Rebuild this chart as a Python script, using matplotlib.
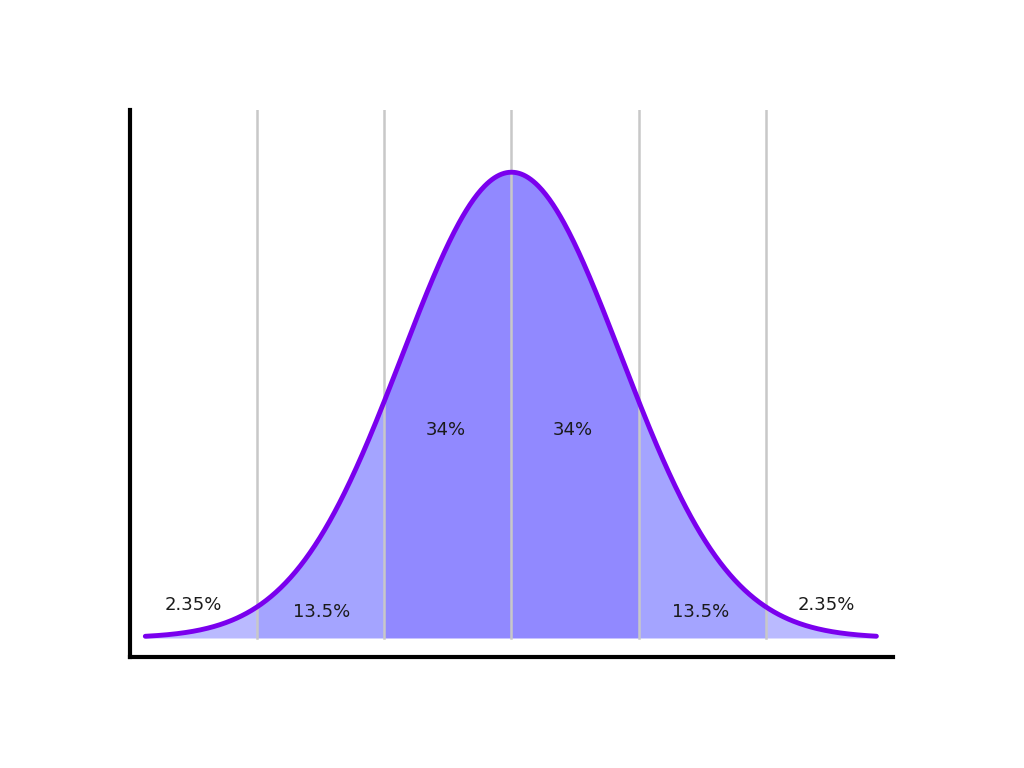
import matplotlib.pyplot as plt
import numpy as np

# boundaries of the shaded bands, in grid units (one grid step = one sigma band)
band_edges = [-2.88, -2, -1, 0, 1, 2, 2.87]
band_colors = ['#babaff', '#a4a4ff', '#9189ff', '#9189ff', '#a4a4ff', '#babaff']
grid_x = [-2, -1, 0, 1, 2]

labels = ['2.35%', '13.5%', '34%', '34%', '13.5%', '2.35%']
label_x = [-2.5, -1.49, -0.52, 0.48, 1.49, 2.48]
label_y = [0.028, 0.022, 0.178, 0.178, 0.022, 0.028]

peak = 0.3989
spread = 0.86


def curve(x):
    return peak * np.exp(-x ** 2 / (2 * spread ** 2))


fig = plt.figure(figsize=(10.24, 7.68), dpi=100)
ax = fig.add_axes([0.127, 0.1445, 0.745, 0.712])

for lo, hi, c in zip(band_edges[:-1], band_edges[1:], band_colors):
    xs = np.linspace(lo, hi, 200)
    ax.fill_between(xs, 0, curve(xs), color=c, lw=0, zorder=1)

for gx in grid_x:
    ax.plot([gx, gx], [0, 0.452], color='#c8c8c8', lw=1.8, zorder=2)

xs = np.linspace(band_edges[0], band_edges[-1], 600)
ax.plot(xs, curve(xs), color='#7a00ee', lw=3.5, solid_capstyle='round', zorder=3)

for t, lx, ly in zip(labels, label_x, label_y):
    ax.text(lx, ly, t, ha='center', va='center', fontsize=13, color='#1a1a1a', zorder=4)

ax.set_xlim(-3, 3)
ax.set_ylim(-0.0163, 0.452)
ax.spines['top'].set_visible(False)
ax.spines['right'].set_visible(False)
ax.spines['left'].set_linewidth(3)
ax.spines['bottom'].set_linewidth(3)
ax.set_xticks([])
ax.set_yticks([])

fig.savefig('out.png', dpi=100)
